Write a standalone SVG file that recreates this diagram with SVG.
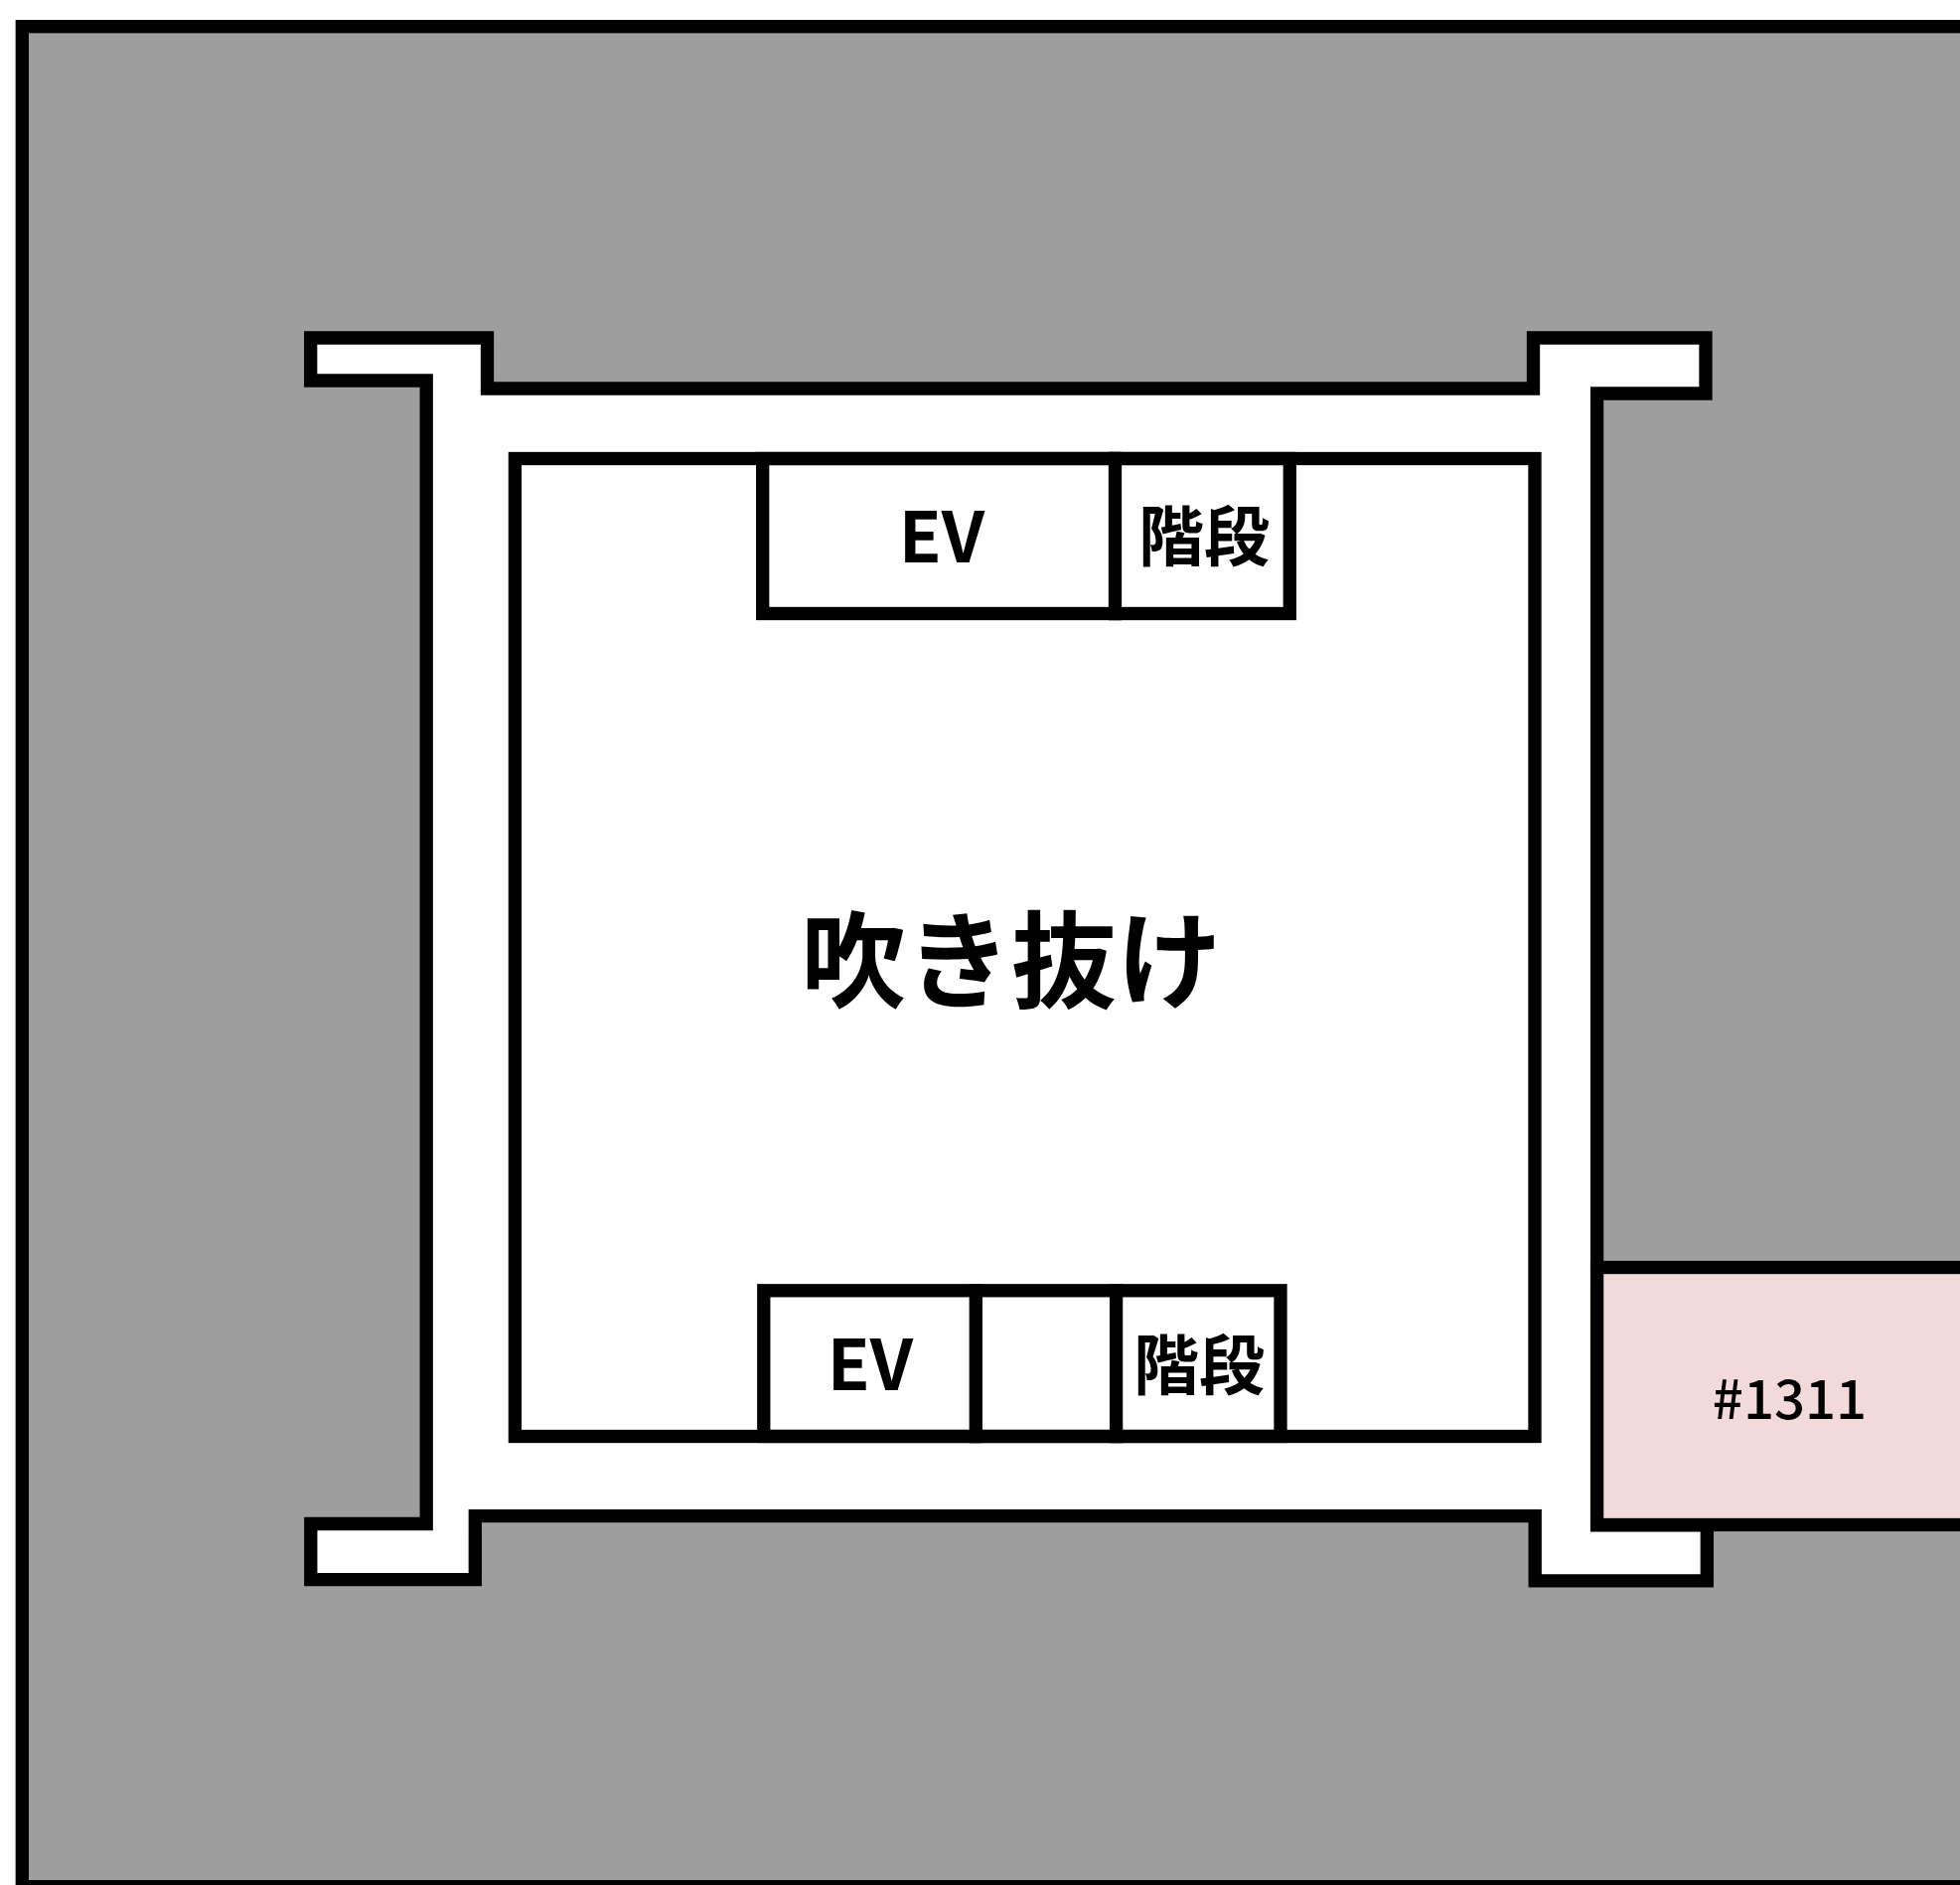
<svg xmlns="http://www.w3.org/2000/svg" width="1973" height="1897" viewBox="0 0 1973 1897">
<style>
.w{stroke:#000;stroke-width:13.3;stroke-linejoin:miter;stroke-miterlimit:10;stroke-linecap:square}
.n{fill:none}
.h{fill:#fff}
text{font-family:"Noto Sans CJK JP","Noto Sans",sans-serif;fill:#000;text-anchor:middle}
.b{font-weight:700;font-size:70px}
.c{font-weight:700;font-size:66px}
.v{font-weight:700;font-size:106px}
.r{font-weight:500;font-size:54.5px}
</style>
<rect width="1973" height="1897" fill="#fff"/>
<g id="building"><rect class="w" x="22.3" y="26.7" width="2000" height="1872" fill="#9e9e9e"/></g>
<g id="corridor"><path class="w h" d="M312.7 340H490.5V391H1543.5V340H1717V396H1607.6V1534.8H1718.3V1590.8H1545.2V1525.7H478.3V1589.7H312.8V1533.5H429.2V383H312.7Z"/></g>
<g id="unit-1311"><rect class="w" x="1607.6" y="1275.5" width="500" height="259" fill="#f4d9db"/><text class="r" x="1801.5" y="1428">#1311</text></g>
<g id="void"><rect class="w h" x="518.4" y="461.5" width="1026.6" height="984"/><text class="v" x="1018" y="1006">吹き抜け</text></g>
<g id="core-top">
<rect class="w n" x="767.7" y="461.5" width="530.6" height="156"/>
<path class="w n" d="M1122.5 461.5V617.5"/>
<text class="b" x="948" y="565.5">EV</text>
<text class="c" x="1212" y="563.5">階段</text>
</g>
<g id="core-bottom">
<rect class="w n" x="768.8" y="1298.8" width="520.2" height="146.7"/>
<path class="w n" d="M982.3 1298.8V1445.5M1123.6 1298.8V1445.5"/>
<text class="b" x="876" y="1399">EV</text>
<text class="c" x="1207" y="1398">階段</text>
</g>
<g id="connectors"></g>
</svg>
